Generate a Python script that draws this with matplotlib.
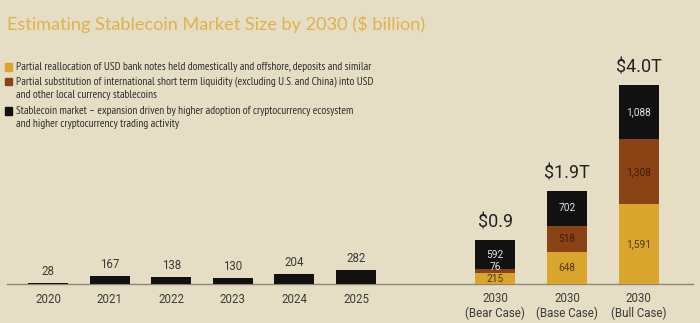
import matplotlib
matplotlib.use("Agg")
import matplotlib.pyplot as plt
import numpy as np

# values in $ billion
years = ["2020", "2021", "2022", "2023", "2024", "2025"]
year_values = [28, 167, 138, 130, 204, 282]

cases = ["2030\n(Bear Case)", "2030\n(Base Case)", "2030\n(Bull Case)"]
bank_notes = [215, 648, 1591]
intl_liquidity = [76, 518, 1308]
crypto_market = [592, 702, 1088]
totals = ["$0.9", "$1.9T", "$4.0T"]

legend_labels = [
    "Partial reallocation of USD bank notes held domestically and offshore, deposits and similar",
    "Partial substitution of international short term liquidity (excluding U.S. and China) into USD\nand other local currency stablecoins",
    "Stablecoin market \u2013 expansion driven by higher adoption of cryptocurrency ecosystem\nand higher cryptocurrency trading activity",
]

BG = "#E6DEC4"
YELLOW = "#D9A52C"
BROWN = "#8A4315"
BLACK = "#111111"
GOLD_TITLE = "#E0B24A"

num_font = ["Roboto", "DejaVu Sans"]
narrow_font = ["PT Sans Narrow", "Roboto Condensed", "DejaVu Sans"]

fig = plt.figure(figsize=(7, 3.23), dpi=100, facecolor=BG)
ax = fig.add_axes([0, 0, 1, 1])
ax.set_facecolor(BG)
ax.axis("off")

# 1 x-unit = 61.6 px, 1 px = 20 $bn on y
ax.set_xlim(-48 / 61.6, 652 / 61.6)
ax.set_ylim(-39 * 20, 284 * 20)

x_years = np.arange(len(years))
x_cases = 7.26 + np.arange(len(cases)) * 1.165
width = 0.65

ax.axhline(0, xmin=0.01, xmax=0.99, color="#8d877a", lw=1.0, zorder=1)

ax.bar(x_years, year_values, width, color=BLACK, zorder=2)
for x, v in zip(x_years, year_values):
    ax.annotate(str(v), (x, v), xytext=(0, 8), textcoords="offset points",
                ha="center", va="center", fontsize=8.3, color="#3a3a3a",
                family=num_font)
for x, lab in zip(x_years, years):
    ax.annotate(lab, (x, 0), xytext=(0, -11), textcoords="offset points",
                ha="center", va="center", fontsize=8.3, color="#3a3a3a",
                family=num_font)

b1 = np.array(bank_notes)
b2 = np.array(intl_liquidity)
b3 = np.array(crypto_market)
ax.bar(x_cases, b1, width, color=YELLOW, zorder=2)
ax.bar(x_cases, b2, width, bottom=b1, color=BROWN, zorder=2)
ax.bar(x_cases, b3, width, bottom=b1 + b2, color=BLACK, zorder=2)

def fmt(v):
    return f"{v:,}"

for i, x in enumerate(x_cases):
    small = b2[i] < 200
    ax.annotate(fmt(b1[i]), (x, b1[i] / 2), xytext=(0, -0.5 if small else 0),
                textcoords="offset points", ha="center", va="center",
                fontsize=7.3, color="#4d3a10", family=num_font, zorder=3)
    ax.annotate(fmt(b2[i]), (x, b1[i] + b2[i] / 2), xytext=(0, 3 if small else 0),
                textcoords="offset points", ha="center", va="center",
                fontsize=7.3, color="#e8e0d0" if small else "#3e1c06",
                family=num_font, zorder=3)
    ax.text(x, b1[i] + b2[i] + b3[i] / 2, fmt(b3[i]), ha="center", va="center",
            fontsize=7.3, color="#e4e4e4", family=num_font, zorder=3)
    top = b1[i] + b2[i] + b3[i]
    ax.annotate(totals[i], (x, top), xytext=(0, 12.5), textcoords="offset points",
                ha="center", va="center", fontsize=13, color="#222222",
                family=num_font)
    ax.annotate(cases[i], (x, 0), xytext=(0, -16), textcoords="offset points",
                ha="center", va="center", fontsize=8.3, color="#3a3a3a",
                family=num_font, linespacing=1.15)

# title
fig.text(7 / 700, 1 - 24 / 323, "Estimating Stablecoin Market Size by 2030 ($ billion)",
         ha="left", va="center", fontsize=13.1, color=GOLD_TITLE,
         family=["Lato", "DejaVu Sans"])

# legend
leg_colors = [YELLOW, BROWN, BLACK]
leg_y = [67, 82, 111]
for c, y, lab in zip(leg_colors, leg_y, legend_labels):
    fig.patches.append(plt.Rectangle((5 / 700, 1 - (y + 3.5) / 323), 7 / 700, 7 / 323,
                                     transform=fig.transFigure, color=c, figure=fig))
    fig.text(16 / 700, 1 - (y - 5.5) / 323, lab, ha="left", va="top", fontsize=8.2,
             color="#2e2e2e", family=narrow_font, linespacing=1.38)

fig.savefig("out.png", dpi=100, facecolor=BG)
